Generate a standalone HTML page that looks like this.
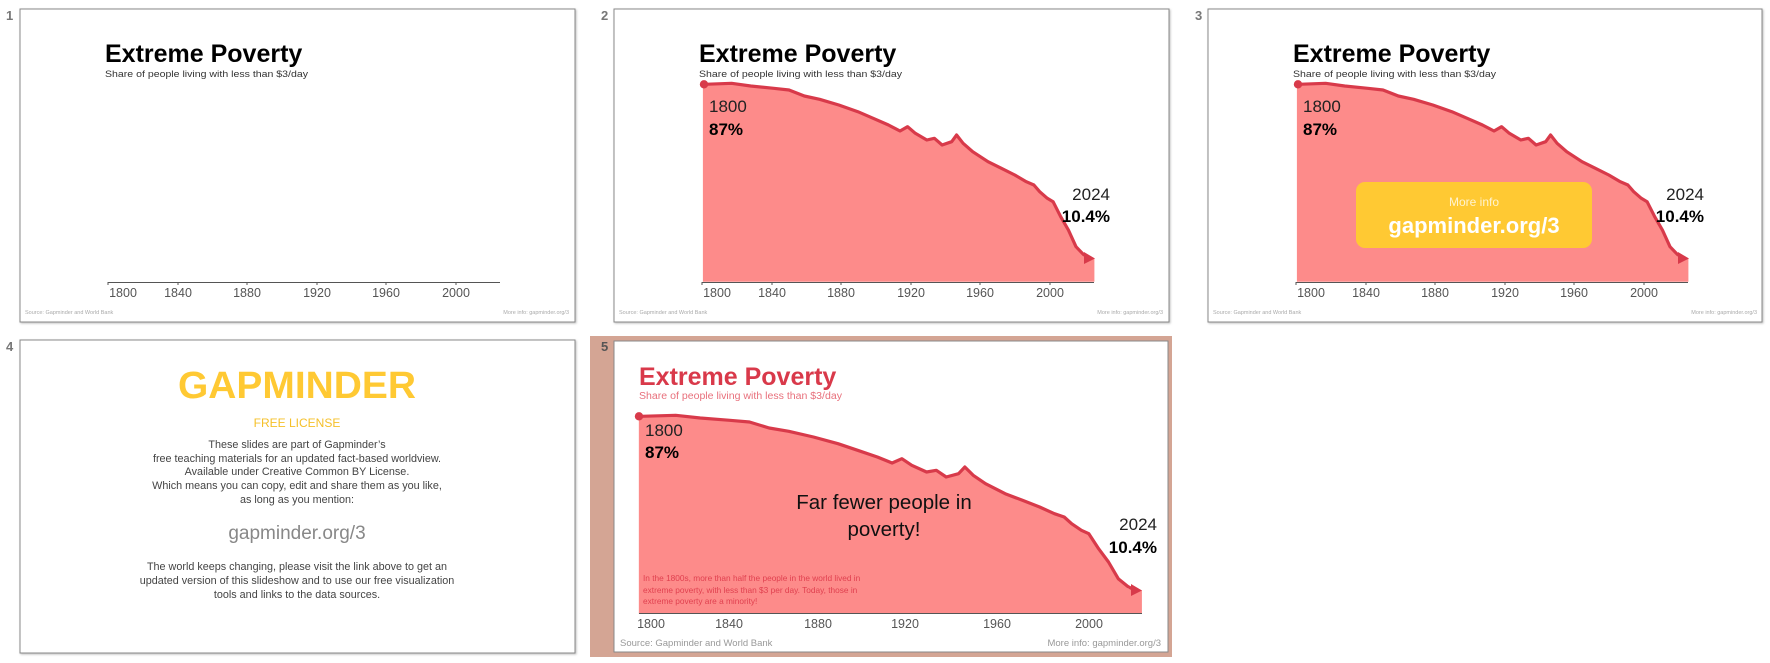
<!DOCTYPE html>
<html><head><meta charset="utf-8"><style>
html,body{margin:0;padding:0;background:#fff;width:1770px;height:663px;overflow:hidden}
svg{display:block}
text{font-family:"Liberation Sans",sans-serif}
</style></head><body>
<svg width="1770" height="663" viewBox="0 0 1770 663" xmlns="http://www.w3.org/2000/svg">
<defs>
<g id="curve">
<polygon fill="#fd8b8a" points="88.9,272.7 88.9,75.3 90.8,75.3 117.6,74.3 136.7,77 159.7,79.3 175,81 190.3,87 205.6,90.3 224.8,96 243.9,102.7 259.2,109.3 274.5,116 286,122 293.6,117.7 301.3,124.3 312.8,131 320.4,129.3 328.1,136 337.7,132.7 342.6,126 349.1,134.3 358.7,142.7 374,152.7 387.4,159.3 400.8,166 412.3,172.7 419.9,176 425.7,182.7 433.3,189.3 439.1,192.7 446.7,207.7 454.4,221 462,237.7 469.7,247.7 479.2,249.3 480.4,249.3 480.4,272.7"/>
<polyline fill="none" stroke="#d83a4a" stroke-width="3.2" stroke-linejoin="round" vector-effect="non-scaling-stroke" points="90.8,75.3 117.6,74.3 136.7,77 159.7,79.3 175,81 190.3,87 205.6,90.3 224.8,96 243.9,102.7 259.2,109.3 274.5,116 286,122 293.6,117.7 301.3,124.3 312.8,131 320.4,129.3 328.1,136 337.7,132.7 342.6,126 349.1,134.3 358.7,142.7 374,152.7 387.4,159.3 400.8,166 412.3,172.7 419.9,176 425.7,182.7 433.3,189.3 439.1,192.7 446.7,207.7 454.4,221 462,237.7 469.7,245.7 474,248.5"/>
</g>
<g id="axis">
<line x1="88" y1="273.5" x2="480" y2="273.5" stroke="#555" stroke-width="1"/>
<g stroke="#555" stroke-width="1"><line x1="88" y1="273" x2="88" y2="276"/><line x1="158" y1="273" x2="158" y2="276"/><line x1="227" y1="273" x2="227" y2="276"/><line x1="297" y1="273" x2="297" y2="276"/><line x1="366" y1="273" x2="366" y2="276"/><line x1="436" y1="273" x2="436" y2="276"/></g>
<g font-size="12.5" fill="#555" text-anchor="middle"><text x="103" y="288">1800</text><text x="158" y="288">1840</text><text x="227" y="288">1880</text><text x="297" y="288">1920</text><text x="366" y="288">1960</text><text x="436" y="288">2000</text></g>
</g>
<g id="head">
<text x="85" y="53" font-size="25" font-weight="bold" fill="#000">Extreme Poverty</text>
<text x="85" y="68" font-size="9.6" fill="#333" textLength="203" lengthAdjust="spacingAndGlyphs">Share of people living with less than $3/day</text>
</g>
<g id="foot">
<text x="5" y="305" font-size="5.5" fill="#aaa">Source: Gapminder and World Bank</text>
<text x="549" y="305" font-size="5.5" fill="#aaa" text-anchor="end">More info: gapminder.org/3</text>
</g>
<g id="labels">
<text x="95" y="103" font-size="17" fill="#222">1800</text>
<text x="95" y="126" font-size="17" font-weight="bold" fill="#000">87%</text>
<text x="496" y="191" font-size="17" fill="#222" text-anchor="end">2024</text>
<text x="496" y="213" font-size="17" font-weight="bold" fill="#000" text-anchor="end">10.4%</text>
</g>
<filter id="sh" x="-5%" y="-5%" width="110%" height="110%"><feDropShadow dx="1" dy="1" stdDeviation="1" flood-color="#000" flood-opacity="0.25"/></filter>
</defs>

<!-- slide numbers -->
<g font-size="13" font-weight="bold" fill="#777">
<text x="6" y="20">1</text><text x="601" y="20">2</text><text x="1195" y="20">3</text><text x="6" y="351">4</text>
</g>

<!-- slide 1 -->
<g transform="translate(20,9)">
<rect x="0" y="0" width="555" height="313" fill="#fff" stroke="#888" filter="url(#sh)"/>
<use href="#head"/><use href="#axis"/><use href="#foot"/>
</g>

<!-- slide 2 -->
<g transform="translate(614,9)">
<rect x="0" y="0" width="555" height="313" fill="#fff" stroke="#888" filter="url(#sh)"/>
<use href="#head"/><use href="#curve"/>
<circle cx="90" cy="75.3" r="4.2" fill="#d83a4a"/>
<polygon points="470,243 481,249.5 470,255" fill="#d83a4a"/>
<use href="#axis"/><use href="#labels"/><use href="#foot"/>
</g>

<!-- slide 3 -->
<g transform="translate(1208,9)">
<rect x="0" y="0" width="554" height="313" fill="#fff" stroke="#888" filter="url(#sh)"/>
<use href="#head"/><use href="#curve"/>
<circle cx="90" cy="75.3" r="4.2" fill="#d83a4a"/>
<polygon points="470,243 481,249.5 470,255" fill="#d83a4a"/>
<use href="#axis"/><use href="#labels"/><use href="#foot"/>
<rect x="148" y="173" width="236" height="66" rx="9" fill="#ffc933"/>
<text x="266" y="197" font-size="12" fill="#fff3d0" text-anchor="middle">More info</text>
<text x="266" y="224" font-size="22" font-weight="bold" fill="#fff" text-anchor="middle">gapminder.org/3</text>
</g>

<!-- slide 4 -->
<g transform="translate(20,340)">
<rect x="0" y="0" width="555" height="313" fill="#fff" stroke="#888" filter="url(#sh)"/>
<text x="277" y="58" font-size="38" font-weight="bold" fill="#ffc933" text-anchor="middle" textLength="238" lengthAdjust="spacingAndGlyphs">GAPMINDER</text>
<text x="277" y="87" font-size="12" fill="#f5c02a" text-anchor="middle">FREE LICENSE</text>
<g font-size="10.8" fill="#444" text-anchor="middle">
<text x="277" y="108">These slides are part of Gapminder’s</text>
<text x="277" y="122">free teaching materials for an updated fact-based worldview.</text>
<text x="277" y="135">Available under Creative Common BY License.</text>
<text x="277" y="149">Which means you can copy, edit and share them as you like,</text>
<text x="277" y="163">as long as you mention:</text>
<text x="277" y="230">The world keeps changing, please visit the link above to get an</text>
<text x="277" y="244">updated version of this slideshow and to use our free visualization</text>
<text x="277" y="258">tools and links to the data sources.</text>
</g>
<text x="277" y="199" font-size="19" fill="#888" text-anchor="middle">gapminder.org/3</text>
</g>

<!-- slide 5 selected -->
<rect x="590" y="336" width="582" height="321" fill="#d4a594"/>
<text x="601" y="351" font-size="13" font-weight="bold" fill="#555">5</text>
<g transform="translate(614,341)">
<rect x="0" y="0" width="554" height="311" fill="#fff" stroke="#888"/>
<text x="25" y="44" font-size="25" font-weight="bold" fill="#d9394a">Extreme Poverty</text>
<text x="25" y="58" font-size="10" fill="#e8707c" textLength="203" lengthAdjust="spacingAndGlyphs">Share of people living with less than $3/day</text>
<g transform="matrix(1.285,0,0,1,-89.4,0)"><use href="#curve"/></g>
<circle cx="25" cy="75.3" r="4.2" fill="#d83a4a"/>
<polygon points="517,243 528,249.5 517,255" fill="#d83a4a"/>
<line x1="25" y1="272.5" x2="528" y2="272.5" stroke="#555"/>
<g font-size="12.5" fill="#555" text-anchor="middle"><text x="37" y="287">1800</text><text x="115" y="287">1840</text><text x="204" y="287">1880</text><text x="291" y="287">1920</text><text x="383" y="287">1960</text><text x="475" y="287">2000</text></g>
<text x="31" y="95" font-size="17" fill="#222">1800</text>
<text x="31" y="117" font-size="17" font-weight="bold" fill="#000">87%</text>
<text x="543" y="189" font-size="17" fill="#222" text-anchor="end">2024</text>
<text x="543" y="212" font-size="17" font-weight="bold" fill="#000" text-anchor="end">10.4%</text>
<text x="270" y="168" font-size="20.5" fill="#111" text-anchor="middle">Far fewer people in</text>
<text x="270" y="195" font-size="20.5" fill="#111" text-anchor="middle">poverty!</text>
<g font-size="8.3" fill="#e0404f">
<text x="29" y="240">In the 1800s, more than half the people in the world lived in</text>
<text x="29" y="252">extreme poverty, with less than $3 per day. Today, those in</text>
<text x="29" y="263">extreme poverty are a minority!</text>
</g>
<text x="6" y="305" font-size="9.5" fill="#999">Source: Gapminder and World Bank</text>
<text x="547" y="305" font-size="9.5" fill="#999" text-anchor="end">More info: gapminder.org/3</text>
</g>
</svg>
</body></html>
